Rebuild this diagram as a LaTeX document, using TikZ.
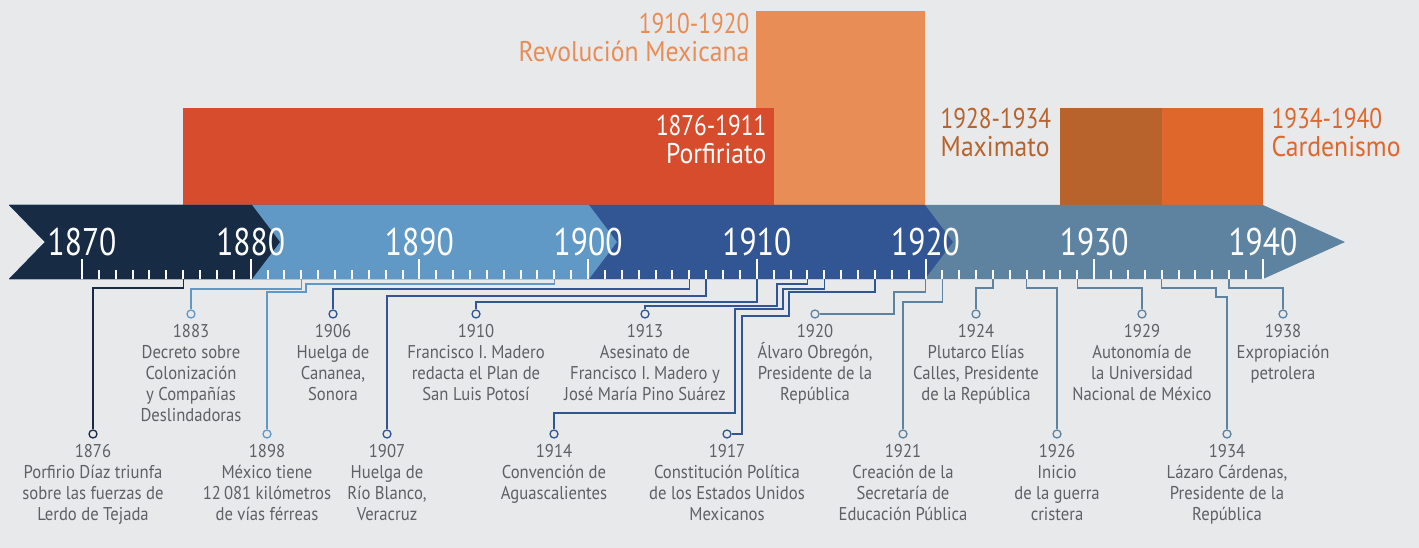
\documentclass[tikz,border=0pt]{standalone}
\usepackage{fontspec}
\setmainfont{PT Sans}[FakeStretch=0.9]
\newfontfamily\cifras{PT Sans}[FakeStretch=0.82]
\usetikzlibrary{calc}

\definecolor{fondo}{HTML}{E8E9EB}
\definecolor{marino}{HTML}{172B45}
\definecolor{azulclaro}{HTML}{6098C6}
\definecolor{azul}{HTML}{325594}
\definecolor{pizarra}{HTML}{5E83A0}
\definecolor{rojo}{HTML}{D64C2C}
\definecolor{naranja}{HTML}{E88D56}
\definecolor{cafe}{HTML}{B8632C}
\definecolor{naranjo}{HTML}{E0672B}
\definecolor{gris}{HTML}{5D6064}

\begin{document}
\begin{tikzpicture}[x=1pt,y=-1pt,line width=1.4pt,
    every node/.style={inner sep=0pt},
    evento/.style={circle,draw,fill=fondo,minimum size=8pt,line width=1.3pt},
    texto/.style={text=gris,align=center,anchor=north,yshift=-5pt,
      font=\fontsize{18.5}{21}\selectfont},
    periodo/.style={font=\fontsize{28.5}{28}\selectfont},
    anio/.style={text=white,anchor=base,yshift=24pt,font=\cifras\fontsize{38.5}{40}\selectfont}]
  \useasboundingbox (0,0) rectangle (1419,548);
  \fill[fondo] (0,0) rectangle (1419,548);
  % periodos
  \fill[naranja] (756,11) rectangle (925,205);
  \fill[rojo] (183,108) rectangle (774,205);
  \fill[cafe] (1060,108) rectangle (1162,205);
  \fill[naranjo] (1162,108) rectangle (1263,205);
  \node[periodo,text=naranja,anchor=north east,align=right] (rev) at (750,13)
    {{\cifras 1910-1920}\\Revolución Mexicana};
  \node[periodo,text=white,anchor=north east,align=right] (porf) at (767,115)
    {{\cifras 1876-1911}\\Porfiriato};
  \node[periodo,text=cafe,anchor=north west,align=left] (maxi) at (940,108)
    {{\cifras 1928-1934}\\Maximato};
  \node[periodo,text=naranjo,anchor=north west,align=left] (card) at (1271,108)
    {{\cifras 1934-1940}\\Cardenismo};
  % flecha
  \fill[pizarra] (9,205)--(1263,205)--(1345,242)--(1263,279)--(9,279)--(45,242)--cycle;
  \fill[azul] (9,205)--(925,205)--(953,242)--(925,279)--(9,279)--(45,242)--cycle;
  \fill[azulclaro] (9,205)--(589,205)--(617,242)--(589,279)--(9,279)--(45,242)--cycle;
  \fill[marino] (9,205)--(252,205)--(280,242)--(252,279)--(9,279)--(45,242)--cycle;
  \foreach \a in {1870,...,1940}{
    \coordinate (t\a) at ({82+16.87*(\a-1870)},279);
    \pgfmathtruncatemacro\m{mod(\a,10)}
    \ifnum\m=0
      \draw[white,line width=2pt] (t\a) -- ++(0,-20);
      \node[anio] (y\a) at (t\a) {\a};
    \else
      \draw[white,line width=2pt] (t\a) -- ++(0,-9);
    \fi
  }
  % eventos
  \foreach \a/\x/\c in {1883/191/azulclaro,1906/333/azul,1910/476/azul,1913/645/azul,
      1920/815/pizarra,1924/976/pizarra,1929/1142/pizarra,1938/1283/pizarra}
    \node[evento,draw=\c] (e\a) at (\x,314) {};
  \foreach \a/\x/\c in {1876/93/marino,1898/267/azulclaro,1907/387/azul,1914/554/azul,
      1917/727/azul,1921/903/pizarra,1926/1057/pizarra,1934/1227/pizarra}
    \node[evento,draw=\c] (e\a) at (\x,434) {};
  \draw[marino] (t1876) |- (e1876|-0,288) -- (e1876);
  \draw[azulclaro] (t1883) |- (e1883|-0,289) -- (e1883);
  \draw[azulclaro] (t1898) |- (306,284) |- (e1898|-0,292) -- (e1898);
  \draw[azul] (t1906) |- (e1906|-0,289) -- (e1906);
  \draw[azul] (t1907) |- (e1907|-0,296) -- (e1907);
  \draw[azul] (t1910) |- (e1910|-0,302) -- (e1910);
  \draw[azul] (t1913) |- (777,284) |- (e1913|-0,306) -- (e1913);
  \draw[azul] (t1914) |- (783,289) |- (735,309) |- (e1914|-0,413) -- (e1914);
  \draw[azul] (t1917) |- (789,292) |- (742,316) |- (e1917);
  \draw[pizarra] (t1920) |- (894,292) |- (e1920);
  \draw[pizarra] (t1921) |- (e1921|-0,302) -- (e1921);
  \draw[pizarra] (t1924) |- (e1924|-0,288) -- (e1924);
  \draw[pizarra] (t1926) |- (e1926|-0,288) -- (e1926);
  \draw[pizarra] (t1929) |- (e1929|-0,288) -- (e1929);
  \draw[pizarra] (t1934) |- (1216,288) |- (e1934|-0,297) -- (e1934);
  \draw[pizarra] (t1938) |- (e1938|-0,288) -- (e1938);
  \node[texto] (d1876) at (e1876.south) {1876\\Porfirio Díaz triunfa\\sobre las fuerzas de\\Lerdo de Tejada};
  \node[texto] (d1883) at (e1883.south) {1883\\Decreto sobre\\Colonización\\y Compañías\\Deslindadoras};
  \node[texto] (d1898) at (e1898.south) {1898\\México tiene\\12\,081 kilómetros\\de vías férreas};
  \node[texto] (d1906) at (e1906.south) {1906\\Huelga de\\Cananea,\\Sonora};
  \node[texto] (d1907) at (e1907.south) {1907\\Huelga de\\Río Blanco,\\Veracruz};
  \node[texto] (d1910) at (e1910.south) {1910\\Francisco I. Madero\\redacta el Plan de\\San Luis Potosí};
  \node[texto] (d1913) at (e1913.south) {1913\\Asesinato de\\Francisco I. Madero y\\José María Pino Suárez};
  \node[texto] (d1914) at (e1914.south) {1914\\Convención de\\Aguascalientes};
  \node[texto] (d1917) at (e1917.south) {1917\\Constitución Política\\de los Estados Unidos\\Mexicanos};
  \node[texto] (d1920) at (e1920.south) {1920\\Álvaro Obregón,\\Presidente de la\\República};
  \node[texto] (d1921) at (e1921.south) {1921\\Creación de la\\Secretaría de\\Educación Pública};
  \node[texto] (d1924) at (e1924.south) {1924\\Plutarco Elías\\Calles, Presidente\\de la República};
  \node[texto] (d1926) at (e1926.south) {1926\\Inicio\\de la guerra\\cristera};
  \node[texto] (d1929) at (e1929.south) {1929\\Autonomía de\\la Universidad\\Nacional de México};
  \node[texto] (d1934) at (e1934.south) {1934\\Lázaro Cárdenas,\\Presidente de la\\República};
  \node[texto] (d1938) at (e1938.south) {1938\\Expropiación\\petrolera};
\end{tikzpicture}
\end{document}
